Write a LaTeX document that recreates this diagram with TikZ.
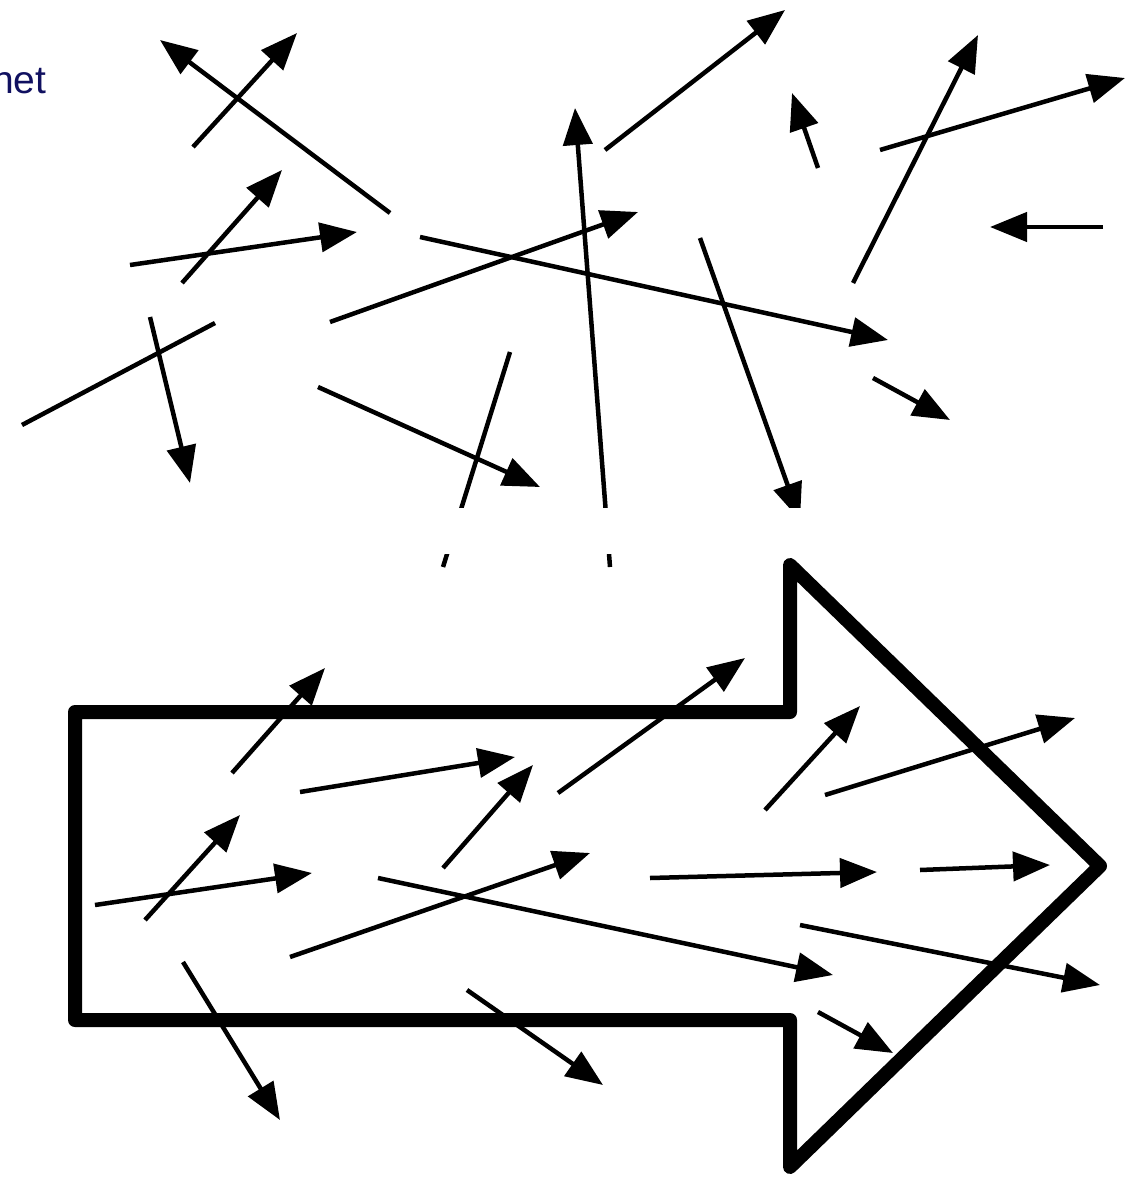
\documentclass[tikz,border=0pt]{standalone}
\usepackage{fontspec}
\setmainfont{Liberation Sans}
\usetikzlibrary{arrows.meta}
\definecolor{netblue}{RGB}{16,16,96}
\tikzset{
  vec/.style={-{Triangle[length=37pt,width=29pt]}, line width=4.5pt},
  bar/.style={line width=4.5pt},
  outline/.style={line width=14pt, line join=round}
}
\begin{document}
\begin{tikzpicture}[x=1pt,y=-1pt]
\useasboundingbox (0,0) rectangle (1147,1182);
\node[anchor=base west, text=netblue, font=\fontsize{39}{42}\selectfont, inner sep=0pt] (lbl) at (-8,94) {net};
% top: spins pointing every way
\foreach \a/\b/\c/\d in {390/213/160/40, 193/147/297/33, 182/283/282/170,
    130/265/357/232, 150/317/190/483, 318/387/540/487, 610/567/575/108,
    605/150/785/10, 330/322/638/212, 420/237/888/340, 700/238/800/520,
    818/168/792/93, 853/283/978/35, 880/150/1125/78, 1103/227/990/227,
    873/378/950/420}
  \draw[vec] (\a,\b) -- (\c,\d);
\draw[bar] (22,425) -- (215,323);
\draw[bar] (510,352) -- (443,567);
\fill[white] (0,508) rectangle (1147,554);
% bottom: spins lined up inside the big arrow
\draw[outline] (75,712) -- (790,712) -- (790,565) -- (1100,866) -- (790,1167)
  -- (790,1020) -- (75,1020) -- cycle;
\foreach \a/\b/\c/\d in {232/773/325/668, 300/792/515/757, 145/920/240/815,
    95/905/312/873, 443/868/533/765, 558/793/745/658, 290/957/590/853,
    378/878/833/975, 183/962/280/1120, 467/990/603/1085, 650/878/877/872,
    920/870/1050/865, 765/810/860/706, 825/795/1075/718, 800/925/1100/985,
    818/1012/893/1053}
  \draw[vec] (\a,\b) -- (\c,\d);
\end{tikzpicture}
\end{document}
